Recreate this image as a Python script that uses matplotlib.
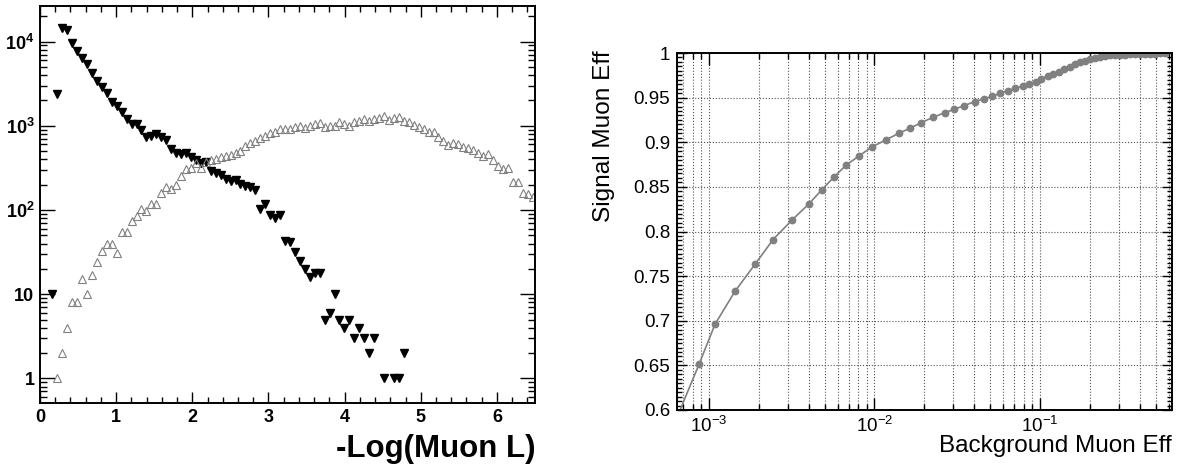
import numpy as np
import matplotlib
matplotlib.use('Agg')
import matplotlib.pyplot as plt
from matplotlib.ticker import (FixedLocator, FixedFormatter, LogLocator,
                               MultipleLocator, NullFormatter, FuncFormatter)

plt.rcParams['font.family'] = ['Liberation Sans', 'DejaVu Sans']
plt.rcParams['mathtext.fontset'] = 'custom'
plt.rcParams['mathtext.rm'] = 'Liberation Sans'
plt.rcParams['mathtext.it'] = 'Liberation Sans:italic'
plt.rcParams['mathtext.bf'] = 'Liberation Sans:bold'

# ---------- Left panel: -Log(Muon L), 100 bins from 0 to 6.5 ----------
bin_width = 0.065

# filled down-triangles (bin index -> entries, empty bins left out)
muon_bins = list(range(2, 68)) + [69, 71, 72, 73]
muon_counts = [10, 2400, 14400, 13800, 9600, 7800, 6340, 5380, 4280, 3440,
               2870, 2480, 1900, 1720, 1450, 1215, 1040, 1050, 890, 740,
               755, 810, 731, 680, 526, 472, 463, 480, 430, 393,
               359, 375, 293, 273, 261, 233, 221, 227, 204, 193,
               186, 173, 102, 117, 87, 80, 87, 43, 42, 32,
               25, 20, 16, 18, 18, 5, 6, 10, 5, 4,
               5, 3, 4, 3, 2, 3,
               1, 1, 1, 2]

# open up-triangles
bkg_bins = list(range(3, 100))
bkg_counts = [1, 2, 4, 8, 8, 15, 10, 17, 24, 33,
              40, 40, 31, 55, 55, 75, 85, 102, 98, 118,
              118, 161, 186, 176, 198, 254, 304, 313, 359, 318,
              375, 393, 400, 423, 438, 451, 472, 507, 577, 631,
              667, 711, 756, 815, 853, 910, 910, 910, 962, 1004,
              935, 1004, 1043, 1072, 977, 1004, 1004, 1101, 1043, 995,
              1120, 1151, 1197, 1151, 1208, 1251, 1310, 1175, 1251, 1262,
              1142, 1101, 1023, 977, 910, 851, 837, 743, 661, 592,
              620, 608, 565, 550, 516, 480, 442, 459, 393, 333,
              307, 313, 213, 213, 158, 154, 144]

y_tick_vals = [1, 10, 100, 1000, 10000]
y_tick_text = ['1', '10', r'$\mathbf{10^{2}}$', r'$\mathbf{10^{3}}$', r'$\mathbf{10^{4}}$']

# ---------- Right panel: efficiency curve ----------
bkg_eff = [6.0e-4, 8.7e-4, 1.087e-3, 1.436e-3, 1.91e-3, 2.44e-3, 3.18e-3, 4.02e-3,
           4.82e-3, 5.69e-3, 6.7e-3, 8.1e-3, 9.7e-3, 1.17e-2, 1.40e-2, 1.65e-2,
           1.92e-2, 2.26e-2, 2.65e-2, 3.04e-2, 3.47e-2, 4.04e-2, 4.58e-2, 5.14e-2,
           5.71e-2, 6.38e-2, 7.1e-2, 7.86e-2, 8.6e-2, 9.4e-2, 0.102, 0.111,
           0.120, 0.130, 0.140, 0.151, 0.163, 0.175, 0.188, 0.201,
           0.216, 0.231, 0.247, 0.265, 0.284, 0.304, 0.326, 0.350,
           0.375, 0.402, 0.431, 0.462, 0.495, 0.531, 0.569]
sig_eff = [0.579, 0.651, 0.696, 0.733, 0.764, 0.791, 0.813, 0.831,
           0.847, 0.861, 0.874, 0.885, 0.895, 0.9025, 0.910, 0.916,
           0.922, 0.928, 0.933, 0.937, 0.941, 0.9455, 0.9488, 0.9514,
           0.9548, 0.9578, 0.9604, 0.963, 0.9656, 0.9679, 0.9712, 0.9742,
           0.9765, 0.979, 0.982, 0.9847, 0.9873, 0.9896, 0.9914, 0.9933,
           0.9947, 0.9959, 0.9966, 0.9972, 0.9977, 0.998, 0.9983, 0.9985,
           0.9987, 0.9989, 0.999, 0.9992, 0.9994, 0.9996, 0.9998]

x_tick_vals = [1e-3, 1e-2, 1e-1]
x_tick_text = [r'$10^{-3}$', r'$10^{-2}$', r'$10^{-1}$']

# ---------- Figure ----------
W, H = 1186, 471
fig = plt.figure(figsize=(W / 100, H / 100), dpi=100)
ax1 = fig.add_axes([40 / W, 1 - 403 / H, 495 / W, 397 / H])
ax2 = fig.add_axes([677 / W, 1 - 410 / H, 495 / W, 357 / H])

# left
mu_x = (np.array(muon_bins) + 0.5) * bin_width
bk_x = (np.array(bkg_bins) + 0.5) * bin_width
ax1.plot(mu_x, muon_counts, 'v', color='black', ms=5.3, ls='none')
ax1.plot(bk_x, bkg_counts, '^', mfc='none', mec='#808080', mew=0.8, ms=5.6, ls='none')
ax1.set_yscale('log')
ax1.set_xlim(0, 6.5)
ax1.set_ylim(0.51, 26500)
ax1.xaxis.set_major_locator(MultipleLocator(1))
ax1.xaxis.set_minor_locator(MultipleLocator(0.2))
ax1.yaxis.set_major_locator(FixedLocator(y_tick_vals))
ax1.yaxis.set_major_formatter(FixedFormatter(y_tick_text))
ax1.yaxis.set_minor_locator(LogLocator(base=10, subs=np.arange(2, 10)))
ax1.yaxis.set_minor_formatter(NullFormatter())
ax1.tick_params(which='both', direction='in', top=True, right=True, width=1.0)
ax1.tick_params(axis='x', which='major', length=8, pad=4, labelsize=13)
ax1.tick_params(axis='x', which='minor', length=4.3)
ax1.tick_params(axis='y', which='major', length=11, pad=4, labelsize=13)
ax1.tick_params(axis='y', which='minor', length=5)
for lab in ax1.get_xticklabels() + ax1.get_yticklabels():
    lab.set_fontweight('bold')
for sp in ax1.spines.values():
    sp.set_linewidth(1.4)
fig.text(535 / W, 1 - 457 / H, '-Log(Muon L)', ha='right', va='baseline',
         fontsize=22.5, fontweight='bold')

# right
ax2.grid(which='major', color='#555555', ls=':', lw=0.8)
ax2.grid(which='minor', axis='x', color='#555555', ls=':', lw=0.8)
ax2.set_axisbelow(True)
ax2.plot(bkg_eff, sig_eff, '-o', color='#808080', ms=4.6, lw=1.2)
ax2.set_xscale('log')
ax2.set_xlim(6.41e-4, 0.627)
ax2.set_ylim(0.6, 1.0)
ax2.yaxis.set_major_locator(MultipleLocator(0.05))
ax2.yaxis.set_minor_locator(MultipleLocator(0.005))
ax2.yaxis.set_major_formatter(FuncFormatter(lambda v, p: '%g' % round(v, 3)))
ax2.xaxis.set_major_locator(FixedLocator(x_tick_vals))
ax2.xaxis.set_major_formatter(FixedFormatter(x_tick_text))
ax2.xaxis.set_minor_locator(LogLocator(base=10, subs=np.arange(2, 10)))
ax2.xaxis.set_minor_formatter(NullFormatter())
ax2.tick_params(which='both', direction='in', top=True, right=True, width=1.0)
ax2.tick_params(axis='x', which='major', length=8.5, pad=4, labelsize=13.5)
ax2.tick_params(axis='x', which='minor', length=4.5)
ax2.tick_params(axis='y', which='major', length=7, pad=5, labelsize=13.5)
ax2.tick_params(axis='y', which='minor', length=3.5)
for sp in ax2.spines.values():
    sp.set_linewidth(1.4)
fig.text(1172 / W, 1 - 452 / H, 'Background Muon Eff', ha='right', va='baseline',
         fontsize=17.5)
fig.text(604 / W, 1 - 50 / H, 'Signal Muon Eff', ha='center', va='top',
         rotation=90, fontsize=17.6)

fig.savefig('out.png', dpi=100)
